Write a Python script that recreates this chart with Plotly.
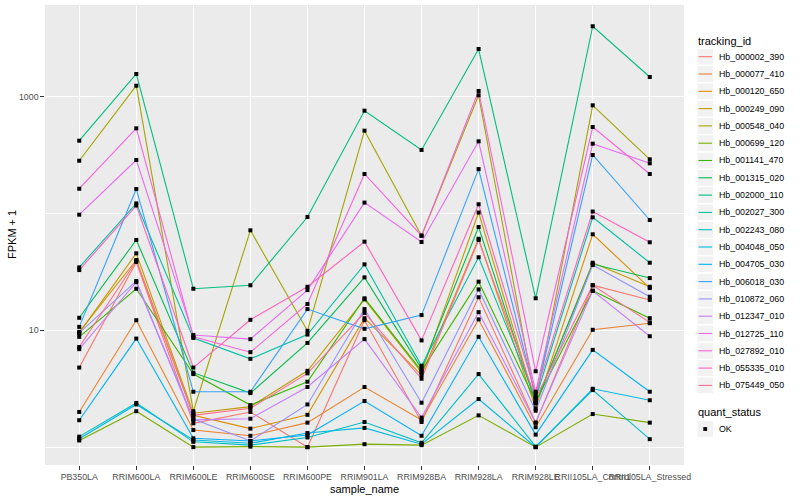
import plotly.graph_objects as go

samples = ["PB350LA", "RRIM600LA", "RRIM600LE", "RRIM600SE", "RRIM600PE", "RRIM901LA",
           "RRIM928BA", "RRIM928LA", "RRIM928LE", "RRII105LA_Control", "RRII105LA_Stressed"]

tracking_ids = ["Hb_000002_390", "Hb_000077_410", "Hb_000120_650", "Hb_000249_090", "Hb_000548_040",
                "Hb_000699_120", "Hb_001141_470", "Hb_001315_020", "Hb_002000_110", "Hb_002027_300",
                "Hb_002243_080", "Hb_004048_050", "Hb_004705_030", "Hb_006018_030", "Hb_010872_060",
                "Hb_012347_010", "Hb_012725_110", "Hb_027892_010", "Hb_055335_010", "Hb_075449_050"]

colors = ["#F8766D", "#EA8331", "#D89000", "#C09B00", "#A3A500", "#7CAE00", "#39B600", "#00BB4E",
          "#00BF7D", "#00C1A3", "#00BFC4", "#00BAE0", "#00B0F6", "#35A2FF", "#9590FF", "#C77CFF",
          "#E76BF3", "#FA62DB", "#FF62BC", "#FF6C91"]

# FPKM + 1 per sample
Hb_000002_390 = [4.8, 38.5, 1.6, 2.0, 1.0, 12.2, 1.64, 19.2, 1.62, 24.3, 18.2]
Hb_000077_410 = [2.0, 12.2, 1.4, 1.25, 1.62, 3.27, 1.71, 12.4, 1.48, 10.1, 11.5]
Hb_000120_650 = [9.7, 40.0, 1.87, 1.44, 1.89, 12.7, 4.14, 60.8, 2.15, 66.4, 23.0]
Hb_000249_090 = [9.5, 45.6, 1.95, 2.22, 4.5, 18.4, 4.37, 102, 2.37, 37.9, 23.6]
Hb_000548_040 = [283, 1242, 2.03, 71.8, 9.9, 512, 64.6, 1028, 2.45, 844, 291]
Hb_000699_120 = [1.14, 2.03, 1.0, 1.01, 1.0, 1.06, 1.04, 1.87, 1.0, 1.92, 1.62]
Hb_001141_470 = [8.8, 22.7, 4.22, 2.29, 3.63, 18.8, 4.5, 26.1, 2.45, 21.8, 12.7]
Hb_001315_020 = [12.8, 59.3, 4.34, 2.9, 7.8, 28.4, 4.7, 76.6, 2.37, 36.9, 28.0]
Hb_002000_110 = [420, 1565, 22.7, 24.3, 93.3, 759, 350, 2560, 18.8, 4009, 1475]
Hb_002027_300 = [34.6, 122, 8.6, 5.7, 9.2, 36.7, 4.98, 42.2, 2.62, 92.8, 37.9]
Hb_002243_080 = [1.23, 2.39, 1.11, 1.04, 1.21, 1.64, 1.09, 4.22, 1.01, 3.08, 1.17]
Hb_004048_050 = [1.18, 2.32, 1.15, 1.08, 1.32, 1.46, 1.06, 2.58, 1.0, 3.16, 2.52]
Hb_004705_030 = [1.7, 8.5, 1.19, 1.13, 1.27, 2.48, 1.25, 8.8, 1.28, 6.8, 2.98]
Hb_006018_030 = [10.7, 162, 2.98, 2.98, 15.2, 10.3, 13.5, 240, 2.7, 317, 88]
Hb_010872_060 = [9.5, 26.4, 1.74, 1.13, 2.32, 15.2, 2.4, 22.4, 2.05, 36.2, 19.4]
Hb_012347_010 = [6.9, 25.8, 1.71, 1.75, 3.27, 8.4, 1.79, 14.3, 1.62, 21.8, 8.9]
Hb_012725_110 = [97.7, 287, 9.1, 8.4, 22.1, 124, 57.0, 415, 2.98, 396, 269]
Hb_027892_010 = [163, 536, 8.8, 6.5, 16.8, 218, 64.6, 1119, 4.46, 550, 218]
Hb_055335_010 = [32.8, 117, 4.8, 12.3, 23.6, 57.4, 8.2, 120, 2.89, 104, 56.7]
Hb_075449_050 = [7.2, 39.2, 1.87, 2.15, 4.28, 14.1, 3.85, 59.3, 2.62, 24.3, 11.7]

series = [Hb_000002_390, Hb_000077_410, Hb_000120_650, Hb_000249_090, Hb_000548_040,
          Hb_000699_120, Hb_001141_470, Hb_001315_020, Hb_002000_110, Hb_002027_300,
          Hb_002243_080, Hb_004048_050, Hb_004705_030, Hb_006018_030, Hb_010872_060,
          Hb_012347_010, Hb_012725_110, Hb_027892_010, Hb_055335_010, Hb_075449_050]

quant_status = ["OK"]

y_tick_vals = [10, 1000]
y_minor_vals = [1, 100]

FONT = "Liberation Sans, Arial, sans-serif"
W, H = 800, 500

fig = go.Figure()
for name, vals, col in zip(tracking_ids, series, colors):
    fig.add_trace(go.Scatter(x=samples, y=vals, mode="lines", name=name,
                             line=dict(color=col, width=1.1), showlegend=False,
                             hoverinfo="skip"))
for name, vals in zip(tracking_ids, series):
    fig.add_trace(go.Scatter(x=samples, y=vals, mode="markers", name=name,
                             marker=dict(color="black", size=4, symbol="square"),
                             showlegend=False))

# layout geometry (pixels)
pl, pr, pt, pb = 45, 684, 5, 465

def px(x):
    return x / W

def py(y):
    return 1 - y / H

shapes = []
annotations = []

# legend: tracking_id
annotations.append(dict(x=px(696), y=py(40.7), xref="paper", yref="paper", text="tracking_id",
                        showarrow=False, xanchor="left", yanchor="middle",
                        font=dict(family=FONT, size=11, color="black")))
for i, (name, col) in enumerate(zip(tracking_ids, colors)):
    cy = 56.7 + 17.3 * i
    shapes.append(dict(type="rect", xref="paper", yref="paper",
                       x0=px(697), x1=px(713.5), y0=py(cy - 8.4), y1=py(cy + 8.4),
                       fillcolor="#F2F2F2", line=dict(color="white", width=1), layer="above"))
    shapes.append(dict(type="line", xref="paper", yref="paper",
                       x0=px(698.5), x1=px(712), y0=py(cy), y1=py(cy),
                       line=dict(color=col, width=1.1), layer="above"))
    annotations.append(dict(x=px(716.5), y=py(cy), xref="paper", yref="paper", text=name,
                            showarrow=False, xanchor="left", yanchor="middle",
                            font=dict(family=FONT, size=8.8, color="black")))

# legend: quant_status
annotations.append(dict(x=px(696), y=py(411.7), xref="paper", yref="paper", text="quant_status",
                        showarrow=False, xanchor="left", yanchor="middle",
                        font=dict(family=FONT, size=11, color="black")))
for j, st in enumerate(quant_status):
    cy = 429 + 17.3 * j
    shapes.append(dict(type="rect", xref="paper", yref="paper",
                       x0=px(697), x1=px(713.5), y0=py(cy - 8.4), y1=py(cy + 8.4),
                       fillcolor="#F2F2F2", line=dict(color="white", width=1), layer="above"))
    shapes.append(dict(type="rect", xref="paper", yref="paper",
                       x0=px(703.3), x1=px(707.1), y0=py(cy - 1.9), y1=py(cy + 1.9),
                       fillcolor="black", line=dict(width=0), layer="above"))
    annotations.append(dict(x=px(716.5), y=py(cy), xref="paper", yref="paper", text=st,
                            showarrow=False, xanchor="left", yanchor="middle",
                            font=dict(family=FONT, size=8.8, color="black")))

# axis titles
annotations.append(dict(x=px((pl + pr) / 2), y=py(489), xref="paper", yref="paper",
                        text="sample_name", showarrow=False, xanchor="center", yanchor="middle",
                        font=dict(family=FONT, size=11, color="black")))
annotations.append(dict(x=px(12), y=py((pt + pb) / 2), xref="paper", yref="paper",
                        text="FPKM + 1", showarrow=False, textangle=-90,
                        xanchor="center", yanchor="middle",
                        font=dict(family=FONT, size=11, color="black")))

fig.update_layout(
    width=W, height=H,
    margin=dict(l=0, r=0, t=0, b=0),
    paper_bgcolor="white", plot_bgcolor="#EBEBEB",
    font=dict(family=FONT, size=8.8, color="#4D4D4D"),
    shapes=shapes, annotations=annotations,
    showlegend=False,
    xaxis=dict(domain=[px(pl), px(pr)], type="category", range=[-0.6, len(samples) - 0.4],
               showgrid=True, gridcolor="white", gridwidth=1.1, zeroline=False,
               ticks="outside", ticklen=3.7, tickcolor="#333333", tickwidth=1.1,
               tickangle=0, tickfont=dict(family=FONT, size=8.8, color="#4D4D4D"),
               automargin=False, fixedrange=True),
    yaxis=dict(domain=[py(pb), py(pt)], type="log", range=[-0.153, 3.785],
               tickmode="array", tickvals=y_tick_vals, ticktext=[str(v) for v in y_tick_vals],
               showgrid=True, gridcolor="white", gridwidth=1.1, zeroline=False,
               ticks="outside", ticklen=3.7, tickcolor="#333333", tickwidth=1.1,
               tickfont=dict(family=FONT, size=8.8, color="#4D4D4D"),
               minor=dict(tickmode="array", tickvals=y_minor_vals, showgrid=True,
                          gridcolor="white", gridwidth=0.55, ticks=""),
               automargin=False, fixedrange=True),
)

fig.write_html("out.html", config={"displayModeBar": False},
               post_script="document.body.style.margin='0px';document.body.style.overflow='hidden';")
